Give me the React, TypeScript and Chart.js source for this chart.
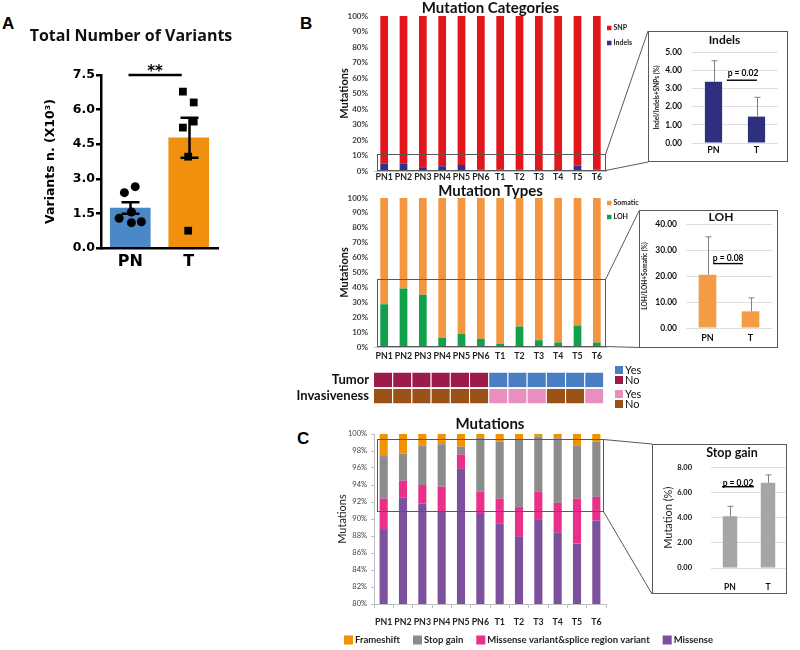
import React, { useEffect, useRef } from 'react';
import { Chart, registerables } from 'chart.js';

Chart.register(...registerables);
Chart.defaults.font.family = 'Lato';

// ---------------- data ----------------
const groups = ['PN', 'T'];
const samples = ['PN1', 'PN2', 'PN3', 'PN4', 'PN5', 'PN6', 'T1', 'T2', 'T3', 'T4', 'T5', 'T6'];

// Panel A: total number of variants (x10^3)
const variantMean = [1.73, 4.78];
const variantSem = [0.25, 0.87];
const pnVariants = [2.4, 2.66, 1.56, 1.29, 1.1, 1.14];
const tVariants = [6.78, 6.31, 5.48, 5.22, 3.96, 0.75];
const pnJitter = [-0.1, 0.085, 0.02, -0.19, 0.02, 0.19];
const tJitter = [-0.1, 0.085, 0.085, -0.1, -0.01, -0.01];

// Panel B: mutation categories (%)
const indelsPct = [4.7, 4.6, 2.5, 3.1, 3.8, 0.9, 0.9, 0.9, 0.7, 0.7, 3.6, 0.9];
const snpPct = [95.3, 95.4, 97.5, 96.9, 96.2, 99.1, 99.1, 99.1, 99.3, 99.3, 96.4, 99.1];

// Panel B: mutation types (%)
const lohPct = [28.7, 39.3, 35.1, 6.0, 8.9, 5.6, 2.0, 13.8, 4.5, 3.1, 14.5, 3.1];
const somaticPct = [71.3, 60.7, 64.9, 94.0, 91.1, 94.4, 98.0, 86.2, 95.5, 96.9, 85.5, 96.9];

// Insets (mean, upper error)
const indelsMean = [3.37, 1.45];
const indelsErr = [1.15, 1.06];
const lohMean = [20.5, 6.4];
const lohErr = [14.6, 5.2];
const stopGainMean = [4.11, 6.78];
const stopGainErr = [0.8, 0.63];

// Heatmap annotations
const tumorStatus = ['No', 'No', 'No', 'No', 'No', 'No', 'Yes', 'Yes', 'Yes', 'Yes', 'Yes', 'Yes'];
const invasiveStatus = ['No', 'No', 'No', 'No', 'No', 'No', 'Yes', 'Yes', 'Yes', 'No', 'No', 'Yes'];
const heatRows = ['Tumor', 'Invasiveness'];

// Panel C: mutations (%)
const missensePct = [88.7, 92.5, 91.8, 90.9, 95.9, 90.7, 89.5, 87.9, 89.9, 88.4, 87.1, 89.8];
const splicePct = [3.7, 2.0, 2.2, 2.9, 1.7, 2.5, 2.9, 3.5, 3.3, 3.5, 5.3, 2.8];
const stopGainPct = [5.0, 3.2, 4.6, 5.0, 0.9, 6.4, 6.7, 7.9, 6.5, 7.6, 6.2, 6.5];
const frameshiftPct = [2.6, 2.3, 1.4, 1.2, 1.5, 0.4, 0.9, 0.7, 0.3, 0.5, 1.4, 0.9];

// ---------------- colours ----------------
const tumorColors: Record<string, string> = { Yes: '#4a7ec2', No: '#9c1b4b' };
const invColors: Record<string, string> = { Yes: '#e98fbf', No: '#9b5219' };

// ---------------- helpers / plugins ----------------
const fixW = (w: number) => (s: any) => { s.width = w; };
const fixH = (h: number) => (s: any) => { s.height = h; };

const base = { responsive: false, animation: false as const, devicePixelRatio: 1, events: [] as any[] };

const errorBars = (means: number[], errs: number[], color: string, lw: number, cap: number, both: boolean, dsIndex: number) => ({
  id: 'errorBars',
  afterDatasetDraw(chart: any, args: any) {
    if (args.index !== dsIndex) return;
    const meta = chart.getDatasetMeta(dsIndex);
    const y = chart.scales.y;
    const ctx = chart.ctx;
    ctx.save();
    ctx.strokeStyle = color;
    ctx.lineWidth = lw;
    meta.data.forEach((bar: any, i: number) => {
      const x = Math.round(bar.x) + (lw % 2 ? 0.5 : 0);
      const t = y.getPixelForValue(means[i] + errs[i]);
      const b = y.getPixelForValue(both ? means[i] - errs[i] : means[i]);
      ctx.beginPath();
      ctx.moveTo(x, t); ctx.lineTo(x, b);
      ctx.moveTo(x - cap, t); ctx.lineTo(x + cap, t);
      if (both) { ctx.moveTo(x - cap, b); ctx.lineTo(x + cap, b); }
      ctx.stroke();
    });
    ctx.restore();
  },
});

const pValue = (text: string, xi: number, yv: number, x1: number, x2: number, yl: number, font: string) => ({
  id: 'pValue',
  afterDraw(chart: any) {
    const { ctx, scales } = chart;
    const x = scales.x, y = scales.y;
    ctx.save();
    ctx.fillStyle = '#000';
    ctx.font = font;
    ctx.textAlign = 'center';
    ctx.textBaseline = 'middle';
    ctx.fillText(text, x.getPixelForValue(xi), y.getPixelForValue(yv));
    const ly = y.getPixelForValue(yl);
    ctx.strokeStyle = '#000';
    ctx.lineWidth = 1.4;
    ctx.beginPath();
    ctx.moveTo(x.getPixelForValue(x1), ly);
    ctx.lineTo(x.getPixelForValue(x2), ly);
    ctx.stroke();
    ctx.restore();
  },
});

const titleText = (text: string, cx: number, cy: number, font: string) => ({
  id: 'titleText',
  afterDraw(chart: any) {
    const ctx = chart.ctx;
    ctx.save();
    ctx.fillStyle = '#111';
    ctx.font = font;
    ctx.textAlign = 'center';
    ctx.textBaseline = 'middle';
    ctx.fillText(text, cx, cy);
    ctx.restore();
  },
});

const frame = {
  id: 'frame',
  afterDraw(chart: any) {
    const { ctx, width, height } = chart;
    ctx.save();
    ctx.strokeStyle = '#595959';
    ctx.lineWidth = 1;
    ctx.strokeRect(0.5, 0.5, width - 1, height - 1);
    ctx.restore();
  },
};

const zoomBox = (from: number, to: number, padL: number, padR: number, t1: [number, number], t2: [number, number]) => ({
  id: 'zoomBox',
  afterDraw(chart: any) {
    const { ctx, chartArea: a, scales } = chart;
    const y = scales.y;
    const top = Math.round(y.getPixelForValue(to)) + 0.5;
    const bottom = Math.round(y.getPixelForValue(from)) - 0.5;
    const l = Math.round(a.left + padL) + 0.5;
    const r = Math.round(a.right - padR) + 0.5;
    ctx.save();
    ctx.strokeStyle = '#595959';
    ctx.lineWidth = 1;
    ctx.strokeRect(l, top, r - l, bottom - top);
    ctx.beginPath();
    ctx.moveTo(r, top); ctx.lineTo(t1[0], t1[1]);
    ctx.moveTo(r, bottom); ctx.lineTo(t2[0], t2[1]);
    ctx.stroke();
    ctx.restore();
  },
});

const sideLegend = (dx: number, y0: number, dy: number, box: number, font: string) => ({
  id: 'sideLegend',
  afterDraw(chart: any) {
    const ctx = chart.ctx;
    const x = chart.chartArea.right + dx;
    const ds = chart.data.datasets.slice().reverse();
    ctx.save();
    ds.forEach((d: any, i: number) => {
      const yy = y0 + i * dy;
      ctx.fillStyle = d.backgroundColor;
      ctx.fillRect(x, yy - box / 2, box, box);
      ctx.fillStyle = '#222';
      ctx.font = font;
      ctx.textAlign = 'left';
      ctx.textBaseline = 'middle';
      ctx.fillText(d.label, x + box + 2, yy);
    });
    ctx.restore();
  },
});

const bottomLegend = (x0: number, y: number, box: number, font: string, gap: number) => ({
  id: 'bottomLegend',
  afterDraw(chart: any) {
    const ctx = chart.ctx;
    const ds = chart.data.datasets.slice().reverse();
    let x = x0;
    ctx.save();
    ctx.font = font;
    ctx.textAlign = 'left';
    ctx.textBaseline = 'middle';
    ds.forEach((d: any) => {
      ctx.fillStyle = d.backgroundColor;
      ctx.fillRect(x, y - box / 2, box, box);
      ctx.fillStyle = '#222';
      ctx.fillText(d.label, x + box + 2, y);
      x += box + 2 + ctx.measureText(d.label).width + gap;
    });
    ctx.restore();
  },
});

const heatLegend = (x: number, ys: number[], box: number, font: string) => ({
  id: 'heatLegend',
  afterDraw(chart: any) {
    const ctx = chart.ctx;
    const items = [
      ['Yes', tumorColors.Yes], ['No', tumorColors.No],
      ['Yes', invColors.Yes], ['No', invColors.No],
    ];
    ctx.save();
    ctx.font = font;
    ctx.textAlign = 'left';
    ctx.textBaseline = 'middle';
    items.forEach(([label, color], i) => {
      ctx.fillStyle = color;
      ctx.fillRect(x, ys[i] - box / 2, box, box);
      ctx.fillStyle = '#111';
      ctx.fillText(label, x + box + 2, ys[i]);
    });
    ctx.restore();
  },
});

const sigLine = {
  id: 'sigLine',
  afterDraw(chart: any) {
    const { ctx, scales } = chart;
    const x = scales.x, y = scales.y;
    const x1 = x.getPixelForValue(-0.03);
    const x2 = x.getPixelForValue(0.88);
    const yy = y.getPixelForValue(7.5);
    ctx.save();
    ctx.strokeStyle = '#000';
    ctx.lineWidth = 2.5;
    ctx.beginPath();
    ctx.moveTo(x1, yy); ctx.lineTo(x2, yy);
    ctx.stroke();
    ctx.fillStyle = '#000';
    ctx.font = 'bold 15px "DejaVu Sans"';
    ctx.textAlign = 'center';
    ctx.textBaseline = 'alphabetic';
    ctx.fillText('**', (x1 + x2) / 2, yy + 1);
    ctx.restore();
  },
};

// ---------------- chart configs ----------------
function makeA(): any {
  return {
    type: 'bar',
    data: {
      datasets: [
        { type: 'scatter', label: 'PN samples', data: pnVariants.map((v, i) => ({ x: 0 + pnJitter[i], y: v })), pointStyle: 'circle', radius: 4.5, backgroundColor: '#000', borderWidth: 0, order: 1 },
        { type: 'scatter', label: 'T samples', data: tVariants.map((v, i) => ({ x: 1 + tJitter[i], y: v })), pointStyle: 'rect', radius: 5.5, backgroundColor: '#000', borderWidth: 0, order: 1 },
        { type: 'bar', label: 'Mean', data: variantMean.map((v, i) => ({ x: i, y: v })), backgroundColor: ['#4a88c8', '#f0900c'], barThickness: 40, order: 2 },
      ],
    },
    options: {
      ...base,
      layout: { padding: { left: 0, right: 42, top: 75, bottom: 0 } },
      plugins: { legend: { display: false }, tooltip: { enabled: false } },
      scales: {
        x: {
          type: 'linear', min: -0.5, max: 1.5, offset: false, afterFit: fixH(42),
          afterBuildTicks: (s: any) => { s.ticks = [{ value: 0 }, { value: 1 }]; },
          grid: { display: false, drawTicks: false, offset: false },
          border: { display: true, color: '#000', width: 2.5 },
          ticks: { callback: (v: any) => groups[Math.round(Number(v))], font: { family: 'DejaVu Sans', weight: 'bold', size: 16 }, color: '#000', padding: 4.4 },
        },
        y: {
          min: 0, max: 7.5, afterFit: fixW(101),
          ticks: { stepSize: 1.5, callback: (v: any) => Number(v).toFixed(1), font: { family: 'DejaVu Sans', weight: 'bold', size: 12.5 }, color: '#000', padding: 1 },
          grid: { display: true, drawOnChartArea: false, drawTicks: true, tickLength: 5, color: '#000', lineWidth: 2.5 },
          border: { display: true, color: '#000', width: 2.5 },
          title: { display: true, text: 'Variants n. (X10³)', color: '#000', font: { family: 'DejaVu Sans', weight: 'bold', size: 12.5 }, padding: { top: 43.5, bottom: 0 } },
        },
      },
    },
    plugins: [errorBars(variantMean, variantSem, '#000', 2.5, 9, true, 2), sigLine, titleText('Total Number of Variants', 131, 36, 'bold 16px "Open Sans"')],
  };
}

function stackedPctOptions(title: string, titlePad: [number, number], xHeight: number, xPad: number): any {
  return {
    ...base,
    datasets: { bar: { barPercentage: 0.4, categoryPercentage: 1 } },
    layout: { padding: { left: 0, right: 53.5, top: 0, bottom: 0 } },
    plugins: {
      legend: { display: false },
      tooltip: { enabled: false },
      title: { display: true, text: title, fullSize: false, color: '#111', font: { size: 15, weight: 'bold', lineHeight: 1 }, padding: { top: titlePad[0], bottom: titlePad[1] } },
    },
    scales: {
      x: { stacked: true, afterFit: fixH(xHeight), grid: { display: false, drawTicks: false }, border: { display: true, color: '#bfbfbf' }, ticks: { autoSkip: false, maxRotation: 0, minRotation: 0, font: { size: 8.8, weight: 'bold' }, color: '#222', padding: xPad } },
      y: {
        stacked: true, min: 0, max: 100, afterFit: fixW(84.5),
        ticks: { stepSize: 10, callback: (v: any) => v + '%', font: { size: 8, weight: 'bold' }, color: '#404040', padding: 6.5 },
        grid: { display: false, drawTicks: false }, border: { display: false },
        title: { display: true, text: 'Mutations', color: '#111', font: { size: 11, weight: 'bold' }, padding: { top: 47.4, bottom: 0 } },
      },
    },
  };
}

function makeB1(): any {
  return {
    type: 'bar',
    data: {
      labels: samples,
      datasets: [
        { label: 'Indels', data: indelsPct, backgroundColor: '#2e3192' },
        { label: 'SNP', data: snpPct, backgroundColor: '#e3161c' },
      ],
    },
    options: stackedPctOptions('Mutation Categories', [0.5, 0.5], 14, 1.3),
    plugins: [zoomBox(0, 11, 2, 1.5, [358, 31], [358, 162]), sideLegend(0.5, 28, 15, 4.5, 'bold 7px Lato')],
  };
}

function makeB2(): any {
  return {
    type: 'bar',
    data: {
      labels: samples,
      datasets: [
        { label: 'LOH', data: lohPct, backgroundColor: '#12a14b' },
        { label: 'Somatic', data: somaticPct, backgroundColor: '#f4963f' },
      ],
    },
    options: stackedPctOptions('Mutation Types', [5.5, -0.5], 21, 4.3),
    plugins: [zoomBox(0, 45.5, 2, 1.5, [349, 33], [349, 169.5]), sideLegend(0.5, 25, 14, 4.5, 'bold 7px Lato')],
  };
}

function makeHeat(): any {
  return {
    type: 'bar',
    data: {
      labels: heatRows,
      datasets: samples.map((s, i) => ({
        label: s,
        data: [1, 1],
        backgroundColor: [tumorColors[tumorStatus[i]], invColors[invasiveStatus[i]]],
        borderColor: 'rgba(255,255,255,0.55)',
        borderWidth: { left: 1, right: 0, top: 0, bottom: 0 },
        borderSkipped: false,
      })),
    },
    options: {
      ...base,
      indexAxis: 'y',
      datasets: { bar: { barPercentage: 0.9, categoryPercentage: 1 } },
      layout: { padding: { left: 0, right: 56.5, top: 4.75, bottom: 4.25 } },
      plugins: { legend: { display: false }, tooltip: { enabled: false } },
      scales: {
        x: { stacked: true, min: 0, max: 12, display: false },
        y: { stacked: true, afterFit: fixW(83), grid: { display: false, drawTicks: false }, border: { display: false }, ticks: { font: { size: 13, weight: 'bold' }, color: '#111', padding: 4 } },
      },
    },
    plugins: [heatLegend(325, [10, 20, 34, 44], 8, '11px Lato')],
  };
}

function makeC(): any {
  return {
    type: 'bar',
    data: {
      labels: samples,
      datasets: [
        { label: 'Missense', data: missensePct, backgroundColor: '#7b519d', clip: 0 },
        { label: 'Missense variant&splice region variant', data: splicePct, backgroundColor: '#e9318b', clip: 0 },
        { label: 'Stop gain', data: stopGainPct, backgroundColor: '#8c8c8c', clip: 0 },
        { label: 'Frameshift', data: frameshiftPct, backgroundColor: '#f39200', clip: 0 },
      ],
    },
    options: {
      ...base,
      datasets: { bar: { barPercentage: 0.42, categoryPercentage: 1 } },
      layout: { padding: { left: 0, right: 114, top: 0, bottom: 0 } },
      plugins: {
        legend: { display: false },
        tooltip: { enabled: false },
        title: { display: true, text: 'Mutations', fullSize: false, color: '#111', font: { size: 15, weight: 'bold', lineHeight: 1 }, padding: { top: 4.5, bottom: 2.5 } },
      },
      scales: {
        x: { stacked: true, afterFit: fixH(46), grid: { display: true, drawOnChartArea: false, drawTicks: true, tickLength: 4, offset: true, color: '#bfbfbf' }, border: { display: true, color: '#bfbfbf' }, ticks: { autoSkip: false, maxRotation: 0, minRotation: 0, font: { size: 8.8, weight: 'bold' }, color: '#222', padding: 9.3 } },
        y: {
          stacked: true, min: 80, max: 100, afterFit: fixW(84),
          ticks: { stepSize: 2, callback: (v: any) => v + '%', font: { size: 7.5 }, color: '#404040', padding: 4 },
          grid: { display: true, drawOnChartArea: false, drawTicks: true, tickLength: 3, color: '#bfbfbf' },
          border: { display: true, color: '#bfbfbf' },
          title: { display: true, text: 'Mutations', color: '#222', font: { size: 11 }, padding: { top: 45.4, bottom: 0 } },
        },
      },
    },
    plugins: [zoomBox(90.8, 99.4, 3, 3, [362, 32], [362, 182]), bottomLegend(54, 228, 9, 'bold 9.5px Lato', 13)],
  };
}

function insetConfig(s: any): any {
  return {
    type: 'bar',
    data: { labels: groups, datasets: [{ label: s.title, data: s.means, backgroundColor: s.color, barPercentage: s.barPct, categoryPercentage: 1 }] },
    options: {
      ...base,
      layout: { padding: { left: 0, right: s.padR, top: s.padT, bottom: 0 } },
      plugins: { legend: { display: false }, tooltip: { enabled: false } },
      scales: {
        x: { afterFit: fixH(s.xHeight), grid: { display: false, drawTicks: false }, border: { display: false }, ticks: { font: { size: s.xFont, weight: 'bold' }, color: '#111', padding: s.xPad } },
        y: {
          min: 0, max: s.yMax, afterFit: fixW(s.yWidth),
          ticks: { stepSize: s.yStep, callback: (v: any) => Number(v).toFixed(2), font: { size: s.yFont, weight: 'bold' }, color: '#111', padding: s.yPad },
          grid: { color: '#dedede', drawTicks: false }, border: { display: false },
          title: { display: true, text: s.yTitle, color: '#222', font: s.yTitleFont, padding: { top: s.yTitlePad, bottom: 0 } },
        },
      },
    },
    plugins: [
      errorBars(s.means, s.errs, '#808080', 1, 3, false, 0),
      pValue(s.p[0], s.p[1], s.p[2], s.p[3], s.p[4], s.p[5], 'bold 8.5px Lato'),
      titleText(s.title, s.titleAt[0], s.titleAt[1], `bold ${s.titleSize}px Lato`),
      frame,
    ],
  };
}

const makeIndels = () => insetConfig({
  title: 'Indels', titleSize: 12, titleAt: [76.5, 9], means: indelsMean, errs: indelsErr, color: '#2e2f7f', barPct: 0.4,
  padR: 10, padT: 21, yWidth: 44, yPad: 10, yMax: 5, yStep: 1, yFont: 8.5,
  yTitle: 'Indel/Indels+SNPs (%)', yTitleFont: { size: 6.5, weight: 'bold' }, yTitlePad: 5.1,
  xHeight: 19, xPad: 1.6, xFont: 9,
  p: ['p = 0.02', 0.686, 3.85, 0.31, 1.01, 3.45],
});

const makeLoh = () => insetConfig({
  title: 'LOH', titleSize: 12, titleAt: [82, 7], means: lohMean, errs: lohErr, color: '#f39b45', barPct: 0.41,
  padR: 6, padT: 10, yWidth: 47, yPad: 9, yMax: 40, yStep: 5, yFont: 8.5,
  yTitle: 'LOH/LOH+Somatic (%)', yTitleFont: { size: 6.5, weight: 'bold' }, yTitlePad: 2.1,
  xHeight: 20, xPad: 4.6, xFont: 9,
  p: ['p = 0.08', 0.48, 27, 0.13, 0.82, 24.8],
});

const makeStop = () => insetConfig({
  title: 'Stop gain', titleSize: 12.5, titleAt: [80, 9], means: stopGainMean, errs: stopGainErr, color: '#a6a6a6', barPct: 0.38,
  padR: 0, padT: 19, yWidth: 59, yPad: 19, yMax: 8, yStep: 2, yFont: 7.5,
  yTitle: 'Mutation (%)', yTitleFont: { size: 11 }, yTitlePad: 9.5,
  xHeight: 26, xPad: 13.9, xFont: 8.5,
  p: ['p = 0.02', 0.21, 6.78, -0.21, 0.63, 6.47],
});

// ---------------- components ----------------
function ChartCanvas({ left, top, width, height, make }: { left: number; top: number; width: number; height: number; make: () => any }) {
  const ref = useRef<HTMLCanvasElement>(null);
  useEffect(() => {
    const chart = new Chart(ref.current as HTMLCanvasElement, make());
    return () => chart.destroy();
  }, []);
  return <canvas ref={ref} width={width} height={height} style={{ position: 'absolute', left, top, width, height }} />;
}

const letterStyle: React.CSSProperties = {
  position: 'absolute', fontFamily: '"Liberation Sans", Arial, sans-serif', fontWeight: 'bold', fontSize: 17, lineHeight: '17px', color: '#000',
};

export default function App() {
  return (
    <div style={{ position: 'absolute', left: 0, top: 0, width: 800, height: 650, background: '#fff', overflow: 'hidden' }}>
      <div style={{ ...letterStyle, left: 2, top: 15 }}>A</div>
      <div style={{ ...letterStyle, left: 300, top: 15 }}>B</div>
      <div style={{ ...letterStyle, left: 297, top: 430 }}>C</div>
      <ChartCanvas left={0} top={0} width={260} height={290} make={makeA} />
      <ChartCanvas left={290} top={0} width={370} height={185} make={makeB1} />
      <ChartCanvas left={290} top={178} width={370} height={190} make={makeB2} />
      <ChartCanvas left={290} top={360} width={370} height={56} make={makeHeat} />
      <ChartCanvas left={290} top={412} width={430} height={238} make={makeC} />
      <ChartCanvas left={648} top={31} width={140} height={131} make={makeIndels} />
      <ChartCanvas left={639} top={210} width={139} height={138} make={makeLoh} />
      <ChartCanvas left={652} top={444} width={135} height={150} make={makeStop} />
    </div>
  );
}
